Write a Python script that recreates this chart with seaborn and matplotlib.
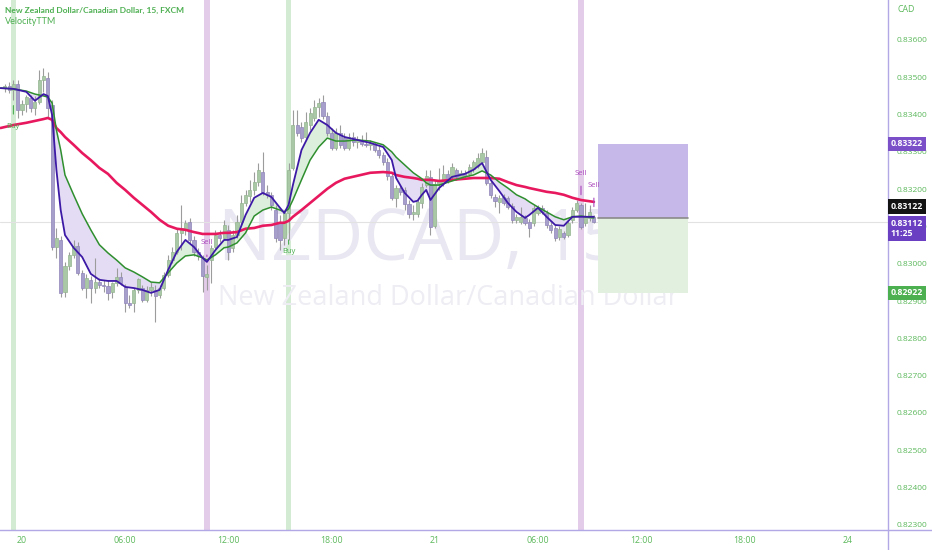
import numpy as np
import pandas as pd
import matplotlib
matplotlib.use("Agg")
import matplotlib.pyplot as plt
import matplotlib.transforms as mtransforms
from matplotlib.lines import Line2D
import seaborn as sns

# ---------------- data ----------------
candle_idx = list(range(-4, 134))  # 15-minute bars, 0 = 20th 00:00
opens = [
    0.83471, 0.83477, 0.83466, 0.83482, 0.83412, 0.83429, 0.83445, 0.83418, 0.83434, 0.83493,
    0.83498, 0.83426, 0.83045, 0.83064, 0.82925, 0.82994, 0.83024, 0.83048, 0.82976, 0.82935,
    0.82957, 0.82935, 0.82951, 0.82943, 0.82941, 0.82925, 0.82949, 0.82965, 0.82938, 0.82895,
    0.82895, 0.82930, 0.82935, 0.82903, 0.82930, 0.82930, 0.82917, 0.82935, 0.82970, 0.83010,
    0.83032, 0.83083, 0.83091, 0.83112, 0.83064, 0.83032, 0.83016, 0.82965, 0.83010, 0.83045,
    0.83077, 0.83069, 0.83091, 0.83043, 0.83077, 0.83112, 0.83163, 0.83182, 0.83198, 0.83219,
    0.83246, 0.83193, 0.83185, 0.83144, 0.83112, 0.83069, 0.83136, 0.83257, 0.83372, 0.83367,
    0.83340, 0.83372, 0.83391, 0.83420, 0.83434, 0.83396, 0.83351, 0.83311, 0.83351, 0.83337,
    0.83311, 0.83340, 0.83327, 0.83332, 0.83321, 0.83319, 0.83321, 0.83305, 0.83292, 0.83273,
    0.83236, 0.83177, 0.83203, 0.83198, 0.83161, 0.83134, 0.83134, 0.83163, 0.83211, 0.83233,
    0.83102, 0.83214, 0.83217, 0.83241, 0.83233, 0.83252, 0.83233, 0.83244, 0.83241, 0.83254,
    0.83262, 0.83273, 0.83286, 0.83217, 0.83179, 0.83166, 0.83179, 0.83177, 0.83155, 0.83118,
    0.83112, 0.83123, 0.83112, 0.83110, 0.83136, 0.83150, 0.83136, 0.83104, 0.83096, 0.83072,
    0.83083, 0.83077, 0.83118, 0.83144, 0.83158, 0.83110, 0.83123, 0.83126,
]
highs = [
    0.83482, 0.83487, 0.83493, 0.83493, 0.83439, 0.83453, 0.83453, 0.83450, 0.83520, 0.83525,
    0.83514, 0.83439, 0.83096, 0.83075, 0.83005, 0.83032, 0.83064, 0.83059, 0.82984, 0.82973,
    0.82968, 0.83016, 0.82962, 0.82957, 0.82957, 0.82951, 0.82989, 0.82978, 0.82946, 0.82917,
    0.82935, 0.82962, 0.82943, 0.82941, 0.82951, 0.82943, 0.82943, 0.82978, 0.83024, 0.83045,
    0.83096, 0.83158, 0.83118, 0.83123, 0.83075, 0.83043, 0.83024, 0.82997, 0.83051, 0.83091,
    0.83091, 0.83118, 0.83104, 0.83091, 0.83131, 0.83185, 0.83198, 0.83225, 0.83246, 0.83270,
    0.83300, 0.83211, 0.83193, 0.83158, 0.83131, 0.83144, 0.83270, 0.83412, 0.83412, 0.83380,
    0.83407, 0.83418, 0.83439, 0.83445, 0.83453, 0.83407, 0.83364, 0.83364, 0.83372, 0.83351,
    0.83351, 0.83353, 0.83343, 0.83345, 0.83353, 0.83332, 0.83327, 0.83316, 0.83300, 0.83284,
    0.83246, 0.83211, 0.83211, 0.83206, 0.83171, 0.83158, 0.83177, 0.83217, 0.83252, 0.83252,
    0.83225, 0.83257, 0.83265, 0.83252, 0.83270, 0.83257, 0.83252, 0.83252, 0.83268, 0.83278,
    0.83297, 0.83311, 0.83305, 0.83225, 0.83187, 0.83185, 0.83187, 0.83182, 0.83163, 0.83134,
    0.83152, 0.83131, 0.83120, 0.83158, 0.83158, 0.83158, 0.83144, 0.83112, 0.83104, 0.83102,
    0.83088, 0.83115, 0.83152, 0.83171, 0.83163, 0.83163, 0.83158, 0.83131,
]
lows = [
    0.83461, 0.83458, 0.83439, 0.83391, 0.83399, 0.83407, 0.83407, 0.83399, 0.83429, 0.83461,
    0.83391, 0.83037, 0.83016, 0.82911, 0.82911, 0.82984, 0.83016, 0.82970, 0.82930, 0.82909,
    0.82895, 0.82922, 0.82935, 0.82925, 0.82903, 0.82909, 0.82941, 0.82943, 0.82871, 0.82882,
    0.82871, 0.82922, 0.82898, 0.82898, 0.82914, 0.82844, 0.82909, 0.82930, 0.82965, 0.83002,
    0.83026, 0.83037, 0.83077, 0.83056, 0.83021, 0.83010, 0.82925, 0.82930, 0.82949, 0.83037,
    0.83059, 0.83064, 0.83010, 0.83032, 0.83069, 0.83104, 0.83155, 0.83166, 0.83185, 0.83209,
    0.83185, 0.83177, 0.83144, 0.83059, 0.83037, 0.83051, 0.83064, 0.83252, 0.83343, 0.83327,
    0.83332, 0.83359, 0.83383, 0.83394, 0.83388, 0.83343, 0.83305, 0.83305, 0.83311, 0.83305,
    0.83305, 0.83316, 0.83311, 0.83316, 0.83313, 0.83305, 0.83300, 0.83284, 0.83265, 0.83225,
    0.83171, 0.83152, 0.83185, 0.83144, 0.83123, 0.83118, 0.83126, 0.83150, 0.83206, 0.83077,
    0.83096, 0.83198, 0.83209, 0.83217, 0.83225, 0.83225, 0.83228, 0.83228, 0.83236, 0.83246,
    0.83257, 0.83268, 0.83211, 0.83177, 0.83152, 0.83136, 0.83158, 0.83147, 0.83110, 0.83110,
    0.83107, 0.83104, 0.83072, 0.83102, 0.83131, 0.83134, 0.83096, 0.83083, 0.83061, 0.83064,
    0.83067, 0.83072, 0.83110, 0.83139, 0.83094, 0.83102, 0.83115, 0.83110,
]
closes = [
    0.83477, 0.83466, 0.83482, 0.83412, 0.83429, 0.83447, 0.83418, 0.83434, 0.83493, 0.83504,
    0.83418, 0.83045, 0.83069, 0.82922, 0.82994, 0.83024, 0.83048, 0.82976, 0.82935, 0.82962,
    0.82935, 0.82951, 0.82943, 0.82941, 0.82922, 0.82949, 0.82965, 0.82949, 0.82895, 0.82890,
    0.82930, 0.82960, 0.82903, 0.82930, 0.82938, 0.82914, 0.82935, 0.82970, 0.83010, 0.83032,
    0.83083, 0.83096, 0.83110, 0.83064, 0.83032, 0.83021, 0.82968, 0.82973, 0.83043, 0.83077,
    0.83069, 0.83104, 0.83032, 0.83077, 0.83112, 0.83163, 0.83185, 0.83198, 0.83219, 0.83252,
    0.83193, 0.83185, 0.83158, 0.83069, 0.83064, 0.83136, 0.83252, 0.83372, 0.83351, 0.83337,
    0.83380, 0.83404, 0.83420, 0.83431, 0.83396, 0.83351, 0.83311, 0.83351, 0.83319, 0.83311,
    0.83340, 0.83327, 0.83332, 0.83321, 0.83319, 0.83324, 0.83305, 0.83292, 0.83273, 0.83236,
    0.83177, 0.83203, 0.83193, 0.83161, 0.83134, 0.83139, 0.83166, 0.83206, 0.83236, 0.83099,
    0.83214, 0.83225, 0.83241, 0.83225, 0.83260, 0.83233, 0.83244, 0.83236, 0.83260, 0.83273,
    0.83284, 0.83297, 0.83217, 0.83185, 0.83169, 0.83177, 0.83163, 0.83152, 0.83118, 0.83126,
    0.83126, 0.83110, 0.83096, 0.83150, 0.83150, 0.83139, 0.83104, 0.83091, 0.83069, 0.83094,
    0.83072, 0.83110, 0.83144, 0.83163, 0.83099, 0.83126, 0.83139, 0.83112,
]

# VelocityTTM moving averages (sampled at bar indices)
line_idx = [-5, -2, 1, 3, 5, 6, 7, 8, 9, 10, 12, 14, 16, 18, 20, 22, 24, 26, 28, 30,
            32, 34, 36, 38, 40, 42, 43, 45, 47, 48, 50, 52, 54, 56, 58, 60, 61, 62, 63, 65,
            67, 69, 71, 73, 75, 78, 81, 84, 86, 87, 89, 91, 92, 93, 94, 95, 97, 100, 103, 105,
            107, 109, 111, 113, 115, 117, 118, 120, 122, 124, 126, 128, 130, 133]
fast_ma = [
    0.83471, 0.83469, 0.83461, 0.83437, 0.83455, 0.83450, 0.83399, 0.83252, 0.83144, 0.83077,
    0.83043, 0.83018, 0.82973, 0.82957, 0.82954, 0.82954, 0.82938, 0.82935, 0.82930, 0.82922,
    0.82930, 0.82984, 0.83032, 0.83064, 0.83045, 0.83016, 0.83005, 0.83037, 0.83064, 0.83064,
    0.83072, 0.83131, 0.83177, 0.83190, 0.83179, 0.83150, 0.83136, 0.83158, 0.83211, 0.83305,
    0.83351, 0.83386, 0.83372, 0.83351, 0.83340, 0.83332, 0.83324, 0.83313, 0.83278, 0.83230,
    0.83190, 0.83166, 0.83169, 0.83185, 0.83198, 0.83171, 0.83203, 0.83233, 0.83241, 0.83252,
    0.83270, 0.83225, 0.83195, 0.83163, 0.83139, 0.83123, 0.83131, 0.83150, 0.83126, 0.83104,
    0.83102, 0.83126, 0.83126, 0.83126,
]
slow_ma = [
    0.83471, 0.83469, 0.83463, 0.83455, 0.83450, 0.83447, 0.83431, 0.83359, 0.83305, 0.83238,
    0.83185, 0.83134, 0.83091, 0.83051, 0.83029, 0.83010, 0.82989, 0.82978, 0.82965, 0.82951,
    0.82949, 0.82976, 0.83002, 0.83021, 0.83024, 0.83016, 0.83010, 0.83024, 0.83043, 0.83045,
    0.83056, 0.83083, 0.83128, 0.83144, 0.83152, 0.83144, 0.83139, 0.83147, 0.83171, 0.83225,
    0.83278, 0.83313, 0.83337, 0.83329, 0.83329, 0.83332, 0.83329, 0.83319, 0.83300, 0.83286,
    0.83265, 0.83244, 0.83236, 0.83228, 0.83217, 0.83211, 0.83211, 0.83222, 0.83233, 0.83238,
    0.83249, 0.83238, 0.83219, 0.83203, 0.83185, 0.83174, 0.83166, 0.83152, 0.83139, 0.83126,
    0.83118, 0.83126, 0.83128, 0.83123,
]
long_ma = [
    0.83364, 0.83372, 0.83378, 0.83383, 0.83388, 0.83391, 0.83386, 0.83364, 0.83353, 0.83340,
    0.83319, 0.83297, 0.83278, 0.83257, 0.83241, 0.83217, 0.83198, 0.83177, 0.83158, 0.83139,
    0.83118, 0.83102, 0.83094, 0.83091, 0.83085, 0.83080, 0.83080, 0.83080, 0.83083, 0.83083,
    0.83085, 0.83094, 0.83096, 0.83102, 0.83104, 0.83110, 0.83110, 0.83115, 0.83126, 0.83144,
    0.83163, 0.83182, 0.83201, 0.83217, 0.83228, 0.83236, 0.83244, 0.83246, 0.83244, 0.83238,
    0.83233, 0.83230, 0.83228, 0.83225, 0.83225, 0.83225, 0.83222, 0.83225, 0.83228, 0.83230,
    0.83230, 0.83230, 0.83228, 0.83219, 0.83211, 0.83206, 0.83203, 0.83198, 0.83193, 0.83190,
    0.83185, 0.83177, 0.83171, 0.83166,
]

buy_bars = [-2, 62]
sell_bars = [43, 130, 133]
buy_bands = [-2, 62]
sell_bands = [43, 130]

time_ticks = [0, 24, 48, 72, 96, 120, 144, 168, 192]
time_labels = ["20", "06:00", "12:00", "18:00", "21", "06:00", "12:00", "18:00", "24"]
price_ticks = [0.823, 0.824, 0.825, 0.826, 0.827, 0.828, 0.829,
               0.830, 0.831, 0.832, 0.833, 0.834, 0.835, 0.836]

target_price = 0.83322
entry_price = 0.83122
stop_price = 0.82922
last_price = 0.83112
countdown = "11:25"
box_from, box_to = 134, 155

# ---------------- style ----------------
sns.set_theme(style="white")
plt.rcParams["font.family"] = ["Open Sans", "DejaVu Sans"]

GREEN_TXT = "#5cb85c"
AXIS_COL = "#b3a8e6"

fig = plt.figure(figsize=(9.32, 5.5), dpi=100)
fig.patch.set_facecolor("white")
ax = fig.add_axes([0, 20 / 550, 888 / 932, 530 / 550])
ax.set_facecolor("white")

# background signal bands
for b in buy_bands:
    ax.axvspan(b - 0.65, b + 0.65, color="#d3ead3", lw=0, zorder=0)
for b in sell_bands:
    ax.axvspan(b - 0.65, b + 0.65, color="#e3cbea", lw=0, zorder=0)

# current price line
ax.axhline(last_price, color="#e2e2e2", lw=0.8, zorder=0.5)

# fills between fast and slow
fi = np.array(line_idx, dtype=float)
fa = np.array(fast_ma)
sl = np.array(slow_ma)
ax.fill_between(fi, fa, sl, where=fa >= sl, interpolate=True, color="#dcefdc", lw=0, zorder=1)
ax.fill_between(fi, fa, sl, where=fa < sl, interpolate=True, color="#e4dcf4", lw=0, zorder=1)

# candles
df = pd.DataFrame({"i": candle_idx, "o": opens, "h": highs, "l": lows, "c": closes})
up = df["c"] >= df["o"]
ax.vlines(df["i"], df["l"], df["h"], color="#9c9c9c", lw=0.8, zorder=2)
for mask, face, edge in [(up, "#a9c9a6", "#93b48f"), (~up, "#a79fcb", "#8f86b8")]:
    sub = df[mask]
    bottom = np.minimum(sub["o"], sub["c"])
    height = np.maximum(np.abs(sub["c"] - sub["o"]), 0.000015)
    ax.bar(sub["i"], height, bottom=bottom, width=0.74, color=face, edgecolor=edge,
           linewidth=0.5, zorder=2.2)

# moving averages
sns.lineplot(x=line_idx, y=long_ma, ax=ax, color="#e8185f", lw=1.9, zorder=3)
sns.lineplot(x=line_idx, y=slow_ma, ax=ax, color="#2f8f2f", lw=1.1, zorder=3.1)
sns.lineplot(x=line_idx, y=fast_ma, ax=ax, color="#3d1aa6", lw=1.3, zorder=3.2)

# position tool
ax.fill_between([box_from, box_to], entry_price, target_price, color="#c6b8e8", lw=0, zorder=1.5)
ax.fill_between([box_from, box_to], stop_price, entry_price, color="#e2f1df", lw=0, zorder=1.5)
ax.plot([box_from, box_to], [entry_price, entry_price], color="#8a8a8a", lw=1.2, zorder=1.6)

# buy / sell labels
ci = {v: k for k, v in enumerate(candle_idx)}
buy_off = {-2: -19, 62: -8}
for b in buy_bars:
    ax.annotate("Buy", xy=(b, lows[ci[b]]), xytext=(0, buy_off[b]), textcoords="offset points",
                ha="center", va="center", fontsize=5.5, color="#4caf50",
                arrowprops=dict(arrowstyle="-", color="#4caf50", lw=0.8, shrinkA=4, shrinkB=4),
                zorder=6)
sell_off = {43: 16, 130: 21, 133: 21}
for s in sell_bars:
    ax.annotate("Sell", xy=(s, highs[ci[s]]), xytext=(0, sell_off[s]), textcoords="offset points",
                ha="center", va="center", fontsize=5.5, color="#ab47bc",
                arrowprops=dict(arrowstyle="-", color="#ab47bc", lw=0.8, shrinkA=4, shrinkB=6),
                zorder=6)

# watermark
ax.text(218 / 888, 1 - 260 / 530, "NZDCAD, 15", transform=ax.transAxes, ha="left",
        va="baseline", fontsize=51, color="#e9e7f1", zorder=0.2)
ax.text(218 / 888, 1 - 298 / 530, "New Zealand Dollar/Canadian Dollar", transform=ax.transAxes,
        ha="left", va="center", fontsize=19.5, color="#eeedf4", zorder=0.2)

# axes & ticks
ax.set_xlim(-5.116, 201.4)
ax.set_ylim(0.822863, 0.837072)
ax.yaxis.tick_right()
ax.set_yticks(price_ticks)
ax.set_yticklabels([f"{p:.5f}" for p in price_ticks])
ax.set_xticks(time_ticks)
ax.set_xticklabels(time_labels)
ax.tick_params(axis="y", length=0, pad=6, labelsize=6, labelcolor=GREEN_TXT)
ax.tick_params(axis="x", length=0, pad=4, labelsize=6.3, labelcolor=GREEN_TXT)
ax.set_xlabel("")
ax.set_ylabel("")
for side in ["top", "left"]:
    ax.spines[side].set_visible(False)
for side in ["right", "bottom"]:
    ax.spines[side].set_color(AXIS_COL)
    ax.spines[side].set_linewidth(1.0)
fig.add_artist(Line2D([888 / 932, 888 / 932], [0, 20 / 550], color=AXIS_COL, lw=1.0))
fig.add_artist(Line2D([888 / 932, 1], [20 / 550, 20 / 550], color=AXIS_COL, lw=1.0))

# price tags
tr = mtransforms.blended_transform_factory(fig.transFigure, ax.transData)
tag_kw = dict(transform=tr, ha="left", va="center", fontsize=6.3, color="white",
              zorder=10, clip_on=False, fontweight="bold")
ax.text(891 / 932, target_price, f"{target_price:.5f}",
        bbox=dict(boxstyle="square,pad=0.3", fc="#7b4fc8", ec="none"), **tag_kw)
ax.annotate(f"{entry_price:.5f}", xy=(891 / 932, entry_price), xycoords=tr,
            xytext=(0, 8.5), textcoords="offset points", ha="left", va="center",
            fontsize=6.3, color="white", fontweight="bold", zorder=10, annotation_clip=False,
            bbox=dict(boxstyle="square,pad=0.3", fc="#131313", ec="none"))
ax.annotate(f"{last_price:.5f}\n{countdown}", xy=(891 / 932, last_price), xycoords=tr,
            xytext=(0, 2.5), textcoords="offset points", ha="left", va="top",
            fontsize=6.3, color="white", fontweight="bold", zorder=10, annotation_clip=False,
            linespacing=1.2,
            bbox=dict(boxstyle="square,pad=0.3", fc="#6a3fc2", ec="none"))
ax.text(891 / 932, stop_price, f"{stop_price:.5f}",
        bbox=dict(boxstyle="square,pad=0.3", fc="#4caf50", ec="none"), **tag_kw)

# header texts
fig.text(5 / 932, 1 - 10 / 550, "New Zealand Dollar/Canadian Dollar, 15, FXCM",
         ha="left", va="center", fontsize=6.0, color="#4caf50", family=["Lato", "DejaVu Sans"],
         fontweight="bold")
fig.text(5 / 932, 1 - 21 / 550, "VelocityTTM", ha="left", va="center",
         fontsize=6.5, color="#4caf50", family=["Lato", "DejaVu Sans"])
fig.text(898 / 932, 1 - 10 / 550, "CAD", ha="left", va="center", fontsize=6.3, color=GREEN_TXT)

fig.savefig("out.png", dpi=100, facecolor="white")
